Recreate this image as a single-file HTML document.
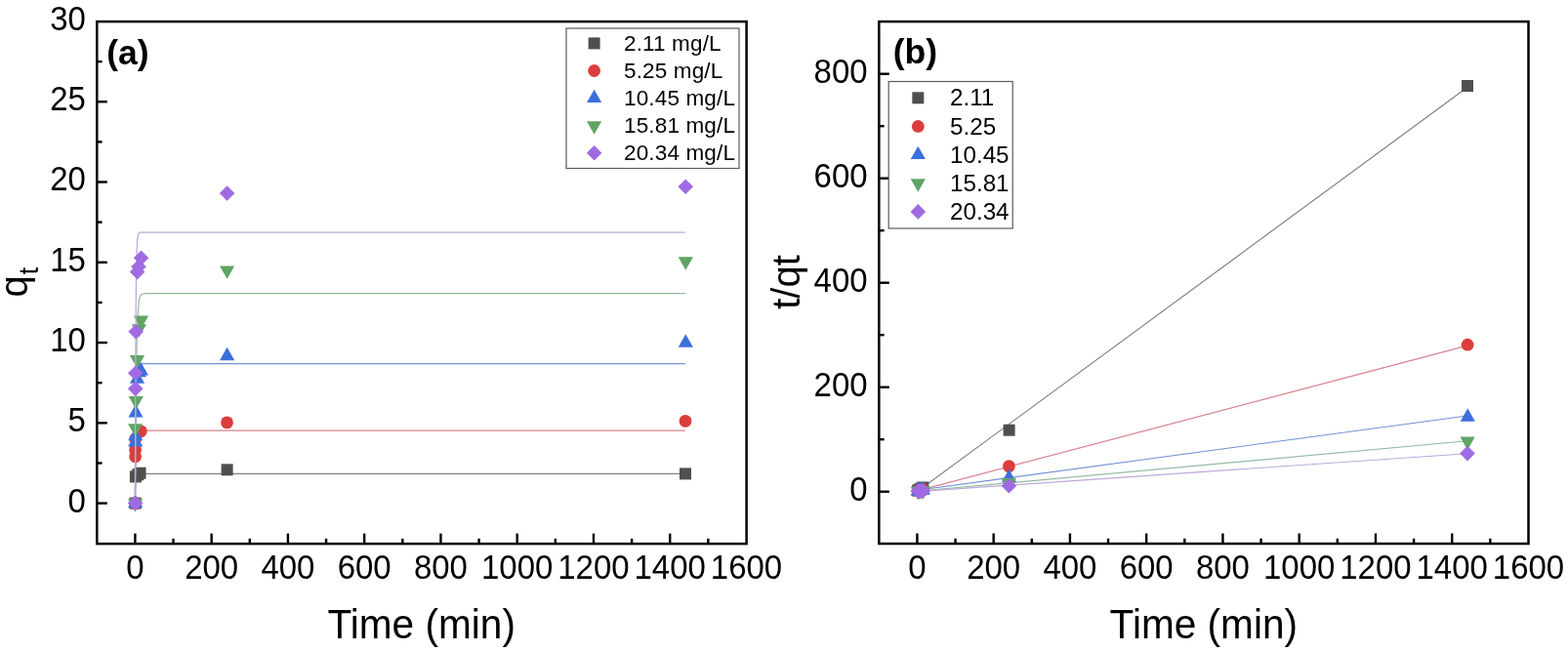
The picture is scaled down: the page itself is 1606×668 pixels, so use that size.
<!DOCTYPE html><html><head><meta charset="utf-8"><title>Adsorption kinetics</title>
<style>html,body{margin:0;padding:0;background:#fff;overflow:hidden}svg{display:block}text{font-family:"Liberation Sans", Arial, sans-serif;fill:#000}</style></head><body>
<svg width="1606" height="668" viewBox="0 0 1606 668">
<rect x="0" y="0" width="1606" height="668" fill="#fff"/>
<polyline points="138.4,515.6 138.48,510.64 138.56,506.5 138.63,503.04 138.71,500.14 138.79,497.73 138.87,495.71 138.95,494.03 139.03,492.62 139.1,491.45 139.18,490.46 139.26,489.64 139.34,488.96 139.42,488.39 139.5,487.91 139.57,487.51 139.65,487.18 139.73,486.9 139.81,486.67 139.89,486.47 139.97,486.31 140.04,486.17 140.12,486.06 140.2,485.97 140.28,485.89 140.36,485.82 140.43,485.77 140.51,485.72 140.59,485.68 140.67,485.65 140.75,485.62 140.83,485.6 140.9,485.58 140.98,485.57 141.06,485.55 141.14,485.54 141.22,485.53 141.3,485.53 141.37,485.52 141.45,485.51 141.53,485.51 141.61,485.51 141.69,485.5 141.77,485.5 141.84,485.5 141.92,485.5 142,485.49 142.08,485.49 142.16,485.49 142.23,485.49 142.31,485.49 142.39,485.49 142.47,485.49 142.55,485.49 142.63,485.49 142.7,485.49 142.78,485.49 142.86,485.49 142.94,485.49 143.02,485.49 143.1,485.49 143.17,485.49 143.25,485.49 143.33,485.49 143.41,485.49 143.49,485.49 143.57,485.49 143.64,485.49 143.72,485.49 143.8,485.49 143.88,485.49 143.96,485.49 144.03,485.49 144.11,485.49 144.19,485.49 144.27,485.49 144.35,485.49 144.43,485.49 144.5,485.49 144.58,485.49 144.66,485.49 144.74,485.49 144.82,485.49 144.9,485.49 144.97,485.49 145.05,485.49 145.13,485.49 145.21,485.49 145.29,485.49 145.37,485.49 145.44,485.49 145.52,485.49 145.6,485.49 145.68,485.49 145.76,485.49 145.83,485.49 145.91,485.49 145.99,485.49 146.07,485.49 146.15,485.49 146.23,485.49 146.3,485.49 146.38,485.49 146.46,485.49 146.54,485.49 146.62,485.49 146.7,485.49 146.77,485.49 146.85,485.49 146.93,485.49 147.01,485.49 147.09,485.49 147.17,485.49 147.24,485.49 147.32,485.49 147.4,485.49 147.48,485.49 147.56,485.49 147.63,485.49 147.71,485.49 147.79,485.49 147.87,485.49 147.95,485.49 148.03,485.49 148.1,485.49 148.18,485.49 148.26,485.49 148.34,485.49 148.42,485.49 148.5,485.49 148.57,485.49 148.65,485.49 148.73,485.49 148.81,485.49 148.89,485.49 148.97,485.49 149.04,485.49 149.12,485.49 149.2,485.49 149.28,485.49 149.36,485.49 149.43,485.49 149.51,485.49 149.59,485.49 149.67,485.49 149.75,485.49 149.83,485.49 149.9,485.49 149.98,485.49 150.06,485.49 150.14,485.49 150.14,485.49 154.05,485.49 157.97,485.49 161.88,485.49 165.79,485.49 169.7,485.49 173.62,485.49 177.53,485.49 181.44,485.49 185.36,485.49 189.27,485.49 193.18,485.49 197.09,485.49 201.01,485.49 204.92,485.49 208.83,485.49 212.75,485.49 216.66,485.49 220.57,485.49 224.49,485.49 228.4,485.49 232.31,485.49 236.22,485.49 240.14,485.49 244.05,485.49 247.96,485.49 251.88,485.49 255.79,485.49 259.7,485.49 263.62,485.49 267.53,485.49 271.44,485.49 275.36,485.49 279.27,485.49 283.18,485.49 287.09,485.49 291.01,485.49 294.92,485.49 298.83,485.49 302.75,485.49 306.66,485.49 310.57,485.49 314.49,485.49 318.4,485.49 322.31,485.49 326.22,485.49 330.14,485.49 334.05,485.49 337.96,485.49 341.88,485.49 345.79,485.49 349.7,485.49 353.62,485.49 357.53,485.49 361.44,485.49 365.35,485.49 369.27,485.49 373.18,485.49 377.09,485.49 381.01,485.49 384.92,485.49 388.83,485.49 392.75,485.49 396.66,485.49 400.57,485.49 404.48,485.49 408.4,485.49 412.31,485.49 416.22,485.49 420.14,485.49 424.05,485.49 427.96,485.49 431.88,485.49 435.79,485.49 439.7,485.49 443.61,485.49 447.53,485.49 451.44,485.49 455.35,485.49 459.27,485.49 463.18,485.49 467.09,485.49 471,485.49 474.92,485.49 478.83,485.49 482.74,485.49 486.66,485.49 490.57,485.49 494.48,485.49 498.4,485.49 502.31,485.49 506.22,485.49 510.13,485.49 514.05,485.49 517.96,485.49 521.87,485.49 525.79,485.49 529.7,485.49 533.61,485.49 537.53,485.49 541.44,485.49 545.35,485.49 549.26,485.49 553.18,485.49 557.09,485.49 561,485.49 564.92,485.49 568.83,485.49 572.74,485.49 576.66,485.49 580.57,485.49 584.48,485.49 588.39,485.49 592.31,485.49 596.22,485.49 600.13,485.49 604.05,485.49 607.96,485.49 611.87,485.49 615.79,485.49 619.7,485.49 623.61,485.49 627.52,485.49 631.44,485.49 635.35,485.49 639.26,485.49 643.18,485.49 647.09,485.49 651,485.49 654.92,485.49 658.83,485.49 662.74,485.49 666.65,485.49 670.57,485.49 674.48,485.49 678.39,485.49 682.31,485.49 686.22,485.49 690.13,485.49 694.05,485.49 697.96,485.49 701.87,485.49" fill="none" stroke="#808080" stroke-width="1.25"/>
<rect x="132.6" y="509.6" width="12" height="12" fill="#4f4f4f"/>
<rect x="132.9" y="482.4" width="12" height="12" fill="#4f4f4f"/>
<rect x="135.2" y="480.3" width="12" height="12" fill="#4f4f4f"/>
<rect x="137.5" y="478.7" width="12" height="12" fill="#4f4f4f"/>
<rect x="226.6" y="475.3" width="12" height="12" fill="#4f4f4f"/>
<rect x="696" y="479.4" width="12" height="12" fill="#4f4f4f"/>
<polyline points="138.4,515.6 138.48,507.84 138.56,500.88 138.63,494.65 138.71,489.07 138.79,484.07 138.87,479.59 138.95,475.57 139.03,471.98 139.1,468.76 139.18,465.87 139.26,463.29 139.34,460.97 139.42,458.9 139.5,457.04 139.57,455.37 139.65,453.88 139.73,452.55 139.81,451.35 139.89,450.28 139.97,449.32 140.04,448.46 140.12,447.69 140.2,447 140.28,446.38 140.36,445.82 140.43,445.33 140.51,444.88 140.59,444.48 140.67,444.13 140.75,443.81 140.83,443.52 140.9,443.27 140.98,443.04 141.06,442.83 141.14,442.65 141.22,442.48 141.3,442.33 141.37,442.2 141.45,442.08 141.53,441.97 141.61,441.88 141.69,441.79 141.77,441.72 141.84,441.65 141.92,441.59 142,441.53 142.08,441.48 142.16,441.44 142.23,441.4 142.31,441.36 142.39,441.33 142.47,441.3 142.55,441.28 142.63,441.26 142.7,441.23 142.78,441.22 142.86,441.2 142.94,441.19 143.02,441.17 143.1,441.16 143.17,441.15 143.25,441.14 143.33,441.13 143.41,441.12 143.49,441.12 143.57,441.11 143.64,441.11 143.72,441.1 143.8,441.1 143.88,441.09 143.96,441.09 144.03,441.09 144.11,441.08 144.19,441.08 144.27,441.08 144.35,441.08 144.43,441.07 144.5,441.07 144.58,441.07 144.66,441.07 144.74,441.07 144.82,441.07 144.9,441.07 144.97,441.07 145.05,441.07 145.13,441.06 145.21,441.06 145.29,441.06 145.37,441.06 145.44,441.06 145.52,441.06 145.6,441.06 145.68,441.06 145.76,441.06 145.83,441.06 145.91,441.06 145.99,441.06 146.07,441.06 146.15,441.06 146.23,441.06 146.3,441.06 146.38,441.06 146.46,441.06 146.54,441.06 146.62,441.06 146.7,441.06 146.77,441.06 146.85,441.06 146.93,441.06 147.01,441.06 147.09,441.06 147.17,441.06 147.24,441.06 147.32,441.06 147.4,441.06 147.48,441.06 147.56,441.06 147.63,441.06 147.71,441.06 147.79,441.06 147.87,441.06 147.95,441.06 148.03,441.06 148.1,441.06 148.18,441.06 148.26,441.06 148.34,441.06 148.42,441.06 148.5,441.06 148.57,441.06 148.65,441.06 148.73,441.06 148.81,441.06 148.89,441.06 148.97,441.06 149.04,441.06 149.12,441.06 149.2,441.06 149.28,441.06 149.36,441.06 149.43,441.06 149.51,441.06 149.59,441.06 149.67,441.06 149.75,441.06 149.83,441.06 149.9,441.06 149.98,441.06 150.06,441.06 150.14,441.06 150.14,441.06 154.05,441.06 157.97,441.06 161.88,441.06 165.79,441.06 169.7,441.06 173.62,441.06 177.53,441.06 181.44,441.06 185.36,441.06 189.27,441.06 193.18,441.06 197.09,441.06 201.01,441.06 204.92,441.06 208.83,441.06 212.75,441.06 216.66,441.06 220.57,441.06 224.49,441.06 228.4,441.06 232.31,441.06 236.22,441.06 240.14,441.06 244.05,441.06 247.96,441.06 251.88,441.06 255.79,441.06 259.7,441.06 263.62,441.06 267.53,441.06 271.44,441.06 275.36,441.06 279.27,441.06 283.18,441.06 287.09,441.06 291.01,441.06 294.92,441.06 298.83,441.06 302.75,441.06 306.66,441.06 310.57,441.06 314.49,441.06 318.4,441.06 322.31,441.06 326.22,441.06 330.14,441.06 334.05,441.06 337.96,441.06 341.88,441.06 345.79,441.06 349.7,441.06 353.62,441.06 357.53,441.06 361.44,441.06 365.35,441.06 369.27,441.06 373.18,441.06 377.09,441.06 381.01,441.06 384.92,441.06 388.83,441.06 392.75,441.06 396.66,441.06 400.57,441.06 404.48,441.06 408.4,441.06 412.31,441.06 416.22,441.06 420.14,441.06 424.05,441.06 427.96,441.06 431.88,441.06 435.79,441.06 439.7,441.06 443.61,441.06 447.53,441.06 451.44,441.06 455.35,441.06 459.27,441.06 463.18,441.06 467.09,441.06 471,441.06 474.92,441.06 478.83,441.06 482.74,441.06 486.66,441.06 490.57,441.06 494.48,441.06 498.4,441.06 502.31,441.06 506.22,441.06 510.13,441.06 514.05,441.06 517.96,441.06 521.87,441.06 525.79,441.06 529.7,441.06 533.61,441.06 537.53,441.06 541.44,441.06 545.35,441.06 549.26,441.06 553.18,441.06 557.09,441.06 561,441.06 564.92,441.06 568.83,441.06 572.74,441.06 576.66,441.06 580.57,441.06 584.48,441.06 588.39,441.06 592.31,441.06 596.22,441.06 600.13,441.06 604.05,441.06 607.96,441.06 611.87,441.06 615.79,441.06 619.7,441.06 623.61,441.06 627.52,441.06 631.44,441.06 635.35,441.06 639.26,441.06 643.18,441.06 647.09,441.06 651,441.06 654.92,441.06 658.83,441.06 662.74,441.06 666.65,441.06 670.57,441.06 674.48,441.06 678.39,441.06 682.31,441.06 686.22,441.06 690.13,441.06 694.05,441.06 697.96,441.06 701.87,441.06" fill="none" stroke="#d9828f" stroke-width="1.25"/>
<circle cx="138.6" cy="515.6" r="6.4" fill="#dc3c3c"/>
<circle cx="138.6" cy="467.8" r="6.4" fill="#dc3c3c"/>
<circle cx="138.6" cy="460.8" r="6.4" fill="#dc3c3c"/>
<circle cx="138.7" cy="449.5" r="6.4" fill="#dc3c3c"/>
<circle cx="144.3" cy="441.8" r="6.4" fill="#dc3c3c"/>
<circle cx="232.5" cy="432.9" r="6.4" fill="#dc3c3c"/>
<circle cx="702" cy="431.4" r="6.4" fill="#dc3c3c"/>
<polyline points="138.4,515.6 138.48,503.29 138.56,492.04 138.63,481.76 138.71,472.37 138.79,463.78 138.87,455.94 138.95,448.76 139.03,442.21 139.1,436.22 139.18,430.74 139.26,425.74 139.34,421.17 139.42,416.99 139.5,413.17 139.57,409.68 139.65,406.49 139.73,403.57 139.81,400.9 139.89,398.47 139.97,396.24 140.04,394.21 140.12,392.35 140.2,390.65 140.28,389.1 140.36,387.68 140.43,386.38 140.51,385.19 140.59,384.11 140.67,383.12 140.75,382.22 140.83,381.39 140.9,380.63 140.98,379.94 141.06,379.31 141.14,378.73 141.22,378.21 141.3,377.72 141.37,377.28 141.45,376.88 141.53,376.51 141.61,376.18 141.69,375.87 141.77,375.59 141.84,375.33 141.92,375.1 142,374.88 142.08,374.69 142.16,374.51 142.23,374.34 142.31,374.19 142.39,374.06 142.47,373.93 142.55,373.82 142.63,373.71 142.7,373.62 142.78,373.53 142.86,373.45 142.94,373.38 143.02,373.31 143.1,373.25 143.17,373.2 143.25,373.15 143.33,373.1 143.41,373.06 143.49,373.02 143.57,372.98 143.64,372.95 143.72,372.92 143.8,372.89 143.88,372.87 143.96,372.85 144.03,372.83 144.11,372.81 144.19,372.79 144.27,372.77 144.35,372.76 144.43,372.75 144.5,372.73 144.58,372.72 144.66,372.71 144.74,372.7 144.82,372.7 144.9,372.69 144.97,372.68 145.05,372.67 145.13,372.67 145.21,372.66 145.29,372.66 145.37,372.65 145.44,372.65 145.52,372.65 145.6,372.64 145.68,372.64 145.76,372.64 145.83,372.63 145.91,372.63 145.99,372.63 146.07,372.63 146.15,372.63 146.23,372.62 146.3,372.62 146.38,372.62 146.46,372.62 146.54,372.62 146.62,372.62 146.7,372.62 146.77,372.62 146.85,372.61 146.93,372.61 147.01,372.61 147.09,372.61 147.17,372.61 147.24,372.61 147.32,372.61 147.4,372.61 147.48,372.61 147.56,372.61 147.63,372.61 147.71,372.61 147.79,372.61 147.87,372.61 147.95,372.61 148.03,372.61 148.1,372.61 148.18,372.61 148.26,372.61 148.34,372.61 148.42,372.61 148.5,372.61 148.57,372.61 148.65,372.61 148.73,372.61 148.81,372.61 148.89,372.61 148.97,372.61 149.04,372.61 149.12,372.61 149.2,372.61 149.28,372.61 149.36,372.61 149.43,372.61 149.51,372.61 149.59,372.61 149.67,372.61 149.75,372.61 149.83,372.61 149.9,372.61 149.98,372.61 150.06,372.61 150.14,372.61 150.14,372.61 154.05,372.61 157.97,372.61 161.88,372.61 165.79,372.61 169.7,372.61 173.62,372.61 177.53,372.61 181.44,372.61 185.36,372.61 189.27,372.61 193.18,372.61 197.09,372.61 201.01,372.61 204.92,372.61 208.83,372.61 212.75,372.61 216.66,372.61 220.57,372.61 224.49,372.61 228.4,372.61 232.31,372.61 236.22,372.61 240.14,372.61 244.05,372.61 247.96,372.61 251.88,372.61 255.79,372.61 259.7,372.61 263.62,372.61 267.53,372.61 271.44,372.61 275.36,372.61 279.27,372.61 283.18,372.61 287.09,372.61 291.01,372.61 294.92,372.61 298.83,372.61 302.75,372.61 306.66,372.61 310.57,372.61 314.49,372.61 318.4,372.61 322.31,372.61 326.22,372.61 330.14,372.61 334.05,372.61 337.96,372.61 341.88,372.61 345.79,372.61 349.7,372.61 353.62,372.61 357.53,372.61 361.44,372.61 365.35,372.61 369.27,372.61 373.18,372.61 377.09,372.61 381.01,372.61 384.92,372.61 388.83,372.61 392.75,372.61 396.66,372.61 400.57,372.61 404.48,372.61 408.4,372.61 412.31,372.61 416.22,372.61 420.14,372.61 424.05,372.61 427.96,372.61 431.88,372.61 435.79,372.61 439.7,372.61 443.61,372.61 447.53,372.61 451.44,372.61 455.35,372.61 459.27,372.61 463.18,372.61 467.09,372.61 471,372.61 474.92,372.61 478.83,372.61 482.74,372.61 486.66,372.61 490.57,372.61 494.48,372.61 498.4,372.61 502.31,372.61 506.22,372.61 510.13,372.61 514.05,372.61 517.96,372.61 521.87,372.61 525.79,372.61 529.7,372.61 533.61,372.61 537.53,372.61 541.44,372.61 545.35,372.61 549.26,372.61 553.18,372.61 557.09,372.61 561,372.61 564.92,372.61 568.83,372.61 572.74,372.61 576.66,372.61 580.57,372.61 584.48,372.61 588.39,372.61 592.31,372.61 596.22,372.61 600.13,372.61 604.05,372.61 607.96,372.61 611.87,372.61 615.79,372.61 619.7,372.61 623.61,372.61 627.52,372.61 631.44,372.61 635.35,372.61 639.26,372.61 643.18,372.61 647.09,372.61 651,372.61 654.92,372.61 658.83,372.61 662.74,372.61 666.65,372.61 670.57,372.61 674.48,372.61 678.39,372.61 682.31,372.61 686.22,372.61 690.13,372.61 694.05,372.61 697.96,372.61 701.87,372.61" fill="none" stroke="#7293d6" stroke-width="1.25"/>
<polygon points="138.6,506.67 146.2,520.07 131,520.07" fill="#3d6fdc"/>
<polygon points="138.7,444.17 146.3,457.57 131.1,457.57" fill="#3d6fdc"/>
<polygon points="138.7,437.87 146.3,451.27 131.1,451.27" fill="#3d6fdc"/>
<polygon points="139,414.07 146.6,427.47 131.4,427.47" fill="#3d6fdc"/>
<polygon points="140.5,379.37 148.1,392.77 132.9,392.77" fill="#3d6fdc"/>
<polygon points="142.3,372.77 149.9,386.17 134.7,386.17" fill="#3d6fdc"/>
<polygon points="144.4,371.07 152,384.47 136.8,384.47" fill="#3d6fdc"/>
<polygon points="232.6,355.77 240.2,369.17 225,369.17" fill="#3d6fdc"/>
<polygon points="702.3,342.27 709.9,355.67 694.7,355.67" fill="#3d6fdc"/>
<polyline points="138.4,515.6 138.48,502.28 138.56,489.78 138.63,478.06 138.71,467.06 138.79,456.75 138.87,447.07 138.95,438 139.03,429.49 139.1,421.5 139.18,414.01 139.26,406.99 139.34,400.4 139.42,394.22 139.5,388.42 139.57,382.98 139.65,377.88 139.73,373.1 139.81,368.61 139.89,364.4 139.97,360.45 140.04,356.74 140.12,353.27 140.2,350.01 140.28,346.95 140.36,344.09 140.43,341.4 140.51,338.87 140.59,336.51 140.67,334.29 140.75,332.2 140.83,330.25 140.9,328.42 140.98,326.7 141.06,325.09 141.14,323.58 141.22,322.16 141.3,320.83 141.37,319.58 141.45,318.41 141.53,317.31 141.61,316.28 141.69,315.31 141.77,314.41 141.84,313.56 141.92,312.76 142,312.01 142.08,311.31 142.16,310.65 142.23,310.04 142.31,309.46 142.39,308.91 142.47,308.41 142.55,307.93 142.63,307.48 142.7,307.06 142.78,306.66 142.86,306.29 142.94,305.95 143.02,305.62 143.1,305.32 143.17,305.03 143.25,304.76 143.33,304.51 143.41,304.27 143.49,304.05 143.57,303.84 143.64,303.65 143.72,303.47 143.8,303.29 143.88,303.13 143.96,302.98 144.03,302.84 144.11,302.71 144.19,302.58 144.27,302.47 144.35,302.36 144.43,302.25 144.5,302.16 144.58,302.07 144.66,301.98 144.74,301.9 144.82,301.83 144.9,301.76 144.97,301.69 145.05,301.63 145.13,301.57 145.21,301.52 145.29,301.47 145.37,301.42 145.44,301.37 145.52,301.33 145.6,301.29 145.68,301.26 145.76,301.22 145.83,301.19 145.91,301.16 145.99,301.13 146.07,301.1 146.15,301.08 146.23,301.05 146.3,301.03 146.38,301.01 146.46,300.99 146.54,300.97 146.62,300.96 146.7,300.94 146.77,300.93 146.85,300.91 146.93,300.9 147.01,300.89 147.09,300.87 147.17,300.86 147.24,300.85 147.32,300.84 147.4,300.83 147.48,300.83 147.56,300.82 147.63,300.81 147.71,300.8 147.79,300.8 147.87,300.79 147.95,300.79 148.03,300.78 148.1,300.77 148.18,300.77 148.26,300.77 148.34,300.76 148.42,300.76 148.5,300.75 148.57,300.75 148.65,300.75 148.73,300.74 148.81,300.74 148.89,300.74 148.97,300.74 149.04,300.73 149.12,300.73 149.2,300.73 149.28,300.73 149.36,300.73 149.43,300.72 149.51,300.72 149.59,300.72 149.67,300.72 149.75,300.72 149.83,300.72 149.9,300.72 149.98,300.71 150.06,300.71 150.14,300.71 150.14,300.71 154.05,300.7 157.97,300.7 161.88,300.7 165.79,300.7 169.7,300.7 173.62,300.7 177.53,300.7 181.44,300.7 185.36,300.7 189.27,300.7 193.18,300.7 197.09,300.7 201.01,300.7 204.92,300.7 208.83,300.7 212.75,300.7 216.66,300.7 220.57,300.7 224.49,300.7 228.4,300.7 232.31,300.7 236.22,300.7 240.14,300.7 244.05,300.7 247.96,300.7 251.88,300.7 255.79,300.7 259.7,300.7 263.62,300.7 267.53,300.7 271.44,300.7 275.36,300.7 279.27,300.7 283.18,300.7 287.09,300.7 291.01,300.7 294.92,300.7 298.83,300.7 302.75,300.7 306.66,300.7 310.57,300.7 314.49,300.7 318.4,300.7 322.31,300.7 326.22,300.7 330.14,300.7 334.05,300.7 337.96,300.7 341.88,300.7 345.79,300.7 349.7,300.7 353.62,300.7 357.53,300.7 361.44,300.7 365.35,300.7 369.27,300.7 373.18,300.7 377.09,300.7 381.01,300.7 384.92,300.7 388.83,300.7 392.75,300.7 396.66,300.7 400.57,300.7 404.48,300.7 408.4,300.7 412.31,300.7 416.22,300.7 420.14,300.7 424.05,300.7 427.96,300.7 431.88,300.7 435.79,300.7 439.7,300.7 443.61,300.7 447.53,300.7 451.44,300.7 455.35,300.7 459.27,300.7 463.18,300.7 467.09,300.7 471,300.7 474.92,300.7 478.83,300.7 482.74,300.7 486.66,300.7 490.57,300.7 494.48,300.7 498.4,300.7 502.31,300.7 506.22,300.7 510.13,300.7 514.05,300.7 517.96,300.7 521.87,300.7 525.79,300.7 529.7,300.7 533.61,300.7 537.53,300.7 541.44,300.7 545.35,300.7 549.26,300.7 553.18,300.7 557.09,300.7 561,300.7 564.92,300.7 568.83,300.7 572.74,300.7 576.66,300.7 580.57,300.7 584.48,300.7 588.39,300.7 592.31,300.7 596.22,300.7 600.13,300.7 604.05,300.7 607.96,300.7 611.87,300.7 615.79,300.7 619.7,300.7 623.61,300.7 627.52,300.7 631.44,300.7 635.35,300.7 639.26,300.7 643.18,300.7 647.09,300.7 651,300.7 654.92,300.7 658.83,300.7 662.74,300.7 666.65,300.7 670.57,300.7 674.48,300.7 678.39,300.7 682.31,300.7 686.22,300.7 690.13,300.7 694.05,300.7 697.96,300.7 701.87,300.7" fill="none" stroke="#92bca0" stroke-width="1.25"/>
<polygon points="131,511.13 146.2,511.13 138.6,524.53" fill="#5fa465"/>
<polygon points="131,434.13 146.2,434.13 138.6,447.53" fill="#5fa465"/>
<polygon points="131.7,406.03 146.9,406.03 139.3,419.43" fill="#5fa465"/>
<polygon points="132.85,364.03 148.05,364.03 140.45,377.43" fill="#5fa465"/>
<polygon points="134.8,332.13 150,332.13 142.4,345.53" fill="#5fa465"/>
<polygon points="136.9,323.53 152.1,323.53 144.5,336.93" fill="#5fa465"/>
<polygon points="225,272.43 240.2,272.43 232.6,285.83" fill="#5fa465"/>
<polygon points="694.7,263.33 709.9,263.33 702.3,276.73" fill="#5fa465"/>
<polyline points="138.4,515.6 138.48,484.21 138.56,456.37 138.63,431.68 138.71,409.78 138.79,390.35 138.87,373.12 138.95,357.85 139.03,344.29 139.1,332.27 139.18,321.61 139.26,312.16 139.34,303.77 139.42,296.34 139.5,289.74 139.57,283.89 139.65,278.7 139.73,274.1 139.81,270.02 139.89,266.4 139.97,263.19 140.04,260.34 140.12,257.81 140.2,255.57 140.28,253.59 140.36,251.82 140.43,250.26 140.51,248.88 140.59,247.65 140.67,246.56 140.75,245.59 140.83,244.73 140.9,243.97 140.98,243.3 141.06,242.7 141.14,242.17 141.22,241.7 141.3,241.28 141.37,240.91 141.45,240.58 141.53,240.29 141.61,240.03 141.69,239.8 141.77,239.6 141.84,239.42 141.92,239.26 142,239.12 142.08,238.99 142.16,238.88 142.23,238.78 142.31,238.69 142.39,238.61 142.47,238.55 142.55,238.48 142.63,238.43 142.7,238.38 142.78,238.34 142.86,238.3 142.94,238.27 143.02,238.24 143.1,238.21 143.17,238.19 143.25,238.17 143.33,238.15 143.41,238.13 143.49,238.12 143.57,238.11 143.64,238.09 143.72,238.08 143.8,238.07 143.88,238.07 143.96,238.06 144.03,238.05 144.11,238.05 144.19,238.04 144.27,238.04 144.35,238.03 144.43,238.03 144.5,238.03 144.58,238.03 144.66,238.02 144.74,238.02 144.82,238.02 144.9,238.02 144.97,238.02 145.05,238.01 145.13,238.01 145.21,238.01 145.29,238.01 145.37,238.01 145.44,238.01 145.52,238.01 145.6,238.01 145.68,238.01 145.76,238.01 145.83,238.01 145.91,238.01 145.99,238.01 146.07,238.01 146.15,238.01 146.23,238.01 146.3,238.01 146.38,238.01 146.46,238.01 146.54,238.01 146.62,238.01 146.7,238 146.77,238 146.85,238 146.93,238 147.01,238 147.09,238 147.17,238 147.24,238 147.32,238 147.4,238 147.48,238 147.56,238 147.63,238 147.71,238 147.79,238 147.87,238 147.95,238 148.03,238 148.1,238 148.18,238 148.26,238 148.34,238 148.42,238 148.5,238 148.57,238 148.65,238 148.73,238 148.81,238 148.89,238 148.97,238 149.04,238 149.12,238 149.2,238 149.28,238 149.36,238 149.43,238 149.51,238 149.59,238 149.67,238 149.75,238 149.83,238 149.9,238 149.98,238 150.06,238 150.14,238 150.14,238 154.05,238 157.97,238 161.88,238 165.79,238 169.7,238 173.62,238 177.53,238 181.44,238 185.36,238 189.27,238 193.18,238 197.09,238 201.01,238 204.92,238 208.83,238 212.75,238 216.66,238 220.57,238 224.49,238 228.4,238 232.31,238 236.22,238 240.14,238 244.05,238 247.96,238 251.88,238 255.79,238 259.7,238 263.62,238 267.53,238 271.44,238 275.36,238 279.27,238 283.18,238 287.09,238 291.01,238 294.92,238 298.83,238 302.75,238 306.66,238 310.57,238 314.49,238 318.4,238 322.31,238 326.22,238 330.14,238 334.05,238 337.96,238 341.88,238 345.79,238 349.7,238 353.62,238 357.53,238 361.44,238 365.35,238 369.27,238 373.18,238 377.09,238 381.01,238 384.92,238 388.83,238 392.75,238 396.66,238 400.57,238 404.48,238 408.4,238 412.31,238 416.22,238 420.14,238 424.05,238 427.96,238 431.88,238 435.79,238 439.7,238 443.61,238 447.53,238 451.44,238 455.35,238 459.27,238 463.18,238 467.09,238 471,238 474.92,238 478.83,238 482.74,238 486.66,238 490.57,238 494.48,238 498.4,238 502.31,238 506.22,238 510.13,238 514.05,238 517.96,238 521.87,238 525.79,238 529.7,238 533.61,238 537.53,238 541.44,238 545.35,238 549.26,238 553.18,238 557.09,238 561,238 564.92,238 568.83,238 572.74,238 576.66,238 580.57,238 584.48,238 588.39,238 592.31,238 596.22,238 600.13,238 604.05,238 607.96,238 611.87,238 615.79,238 619.7,238 623.61,238 627.52,238 631.44,238 635.35,238 639.26,238 643.18,238 647.09,238 651,238 654.92,238 658.83,238 662.74,238 666.65,238 670.57,238 674.48,238 678.39,238 682.31,238 686.22,238 690.13,238 694.05,238 697.96,238 701.87,238" fill="none" stroke="#bea8dc" stroke-width="1.25"/>
<polygon points="138.6,507.8 146.4,515.6 138.6,523.4 130.8,515.6" fill="#a06be2"/>
<polygon points="138.7,390.5 146.5,398.3 138.7,406.1 130.9,398.3" fill="#a06be2"/>
<polygon points="138.8,374.4 146.6,382.2 138.8,390 131,382.2" fill="#a06be2"/>
<polygon points="139.2,332 147,339.8 139.2,347.6 131.4,339.8" fill="#a06be2"/>
<polygon points="140.6,270.8 148.4,278.6 140.6,286.4 132.8,278.6" fill="#a06be2"/>
<polygon points="142,265.4 149.8,273.2 142,281 134.2,273.2" fill="#a06be2"/>
<polygon points="144.6,256.4 152.4,264.2 144.6,272 136.8,264.2" fill="#a06be2"/>
<polygon points="232.6,190.2 240.4,198 232.6,205.8 224.8,198" fill="#a06be2"/>
<polygon points="702.2,183.5 710,191.3 702.2,199.1 694.4,191.3" fill="#a06be2"/>
<g stroke="#000" stroke-width="2.4" fill="none">
<line x1="138.4" y1="557.1" x2="138.4" y2="546.6"/>
<line x1="216.66" y1="557.1" x2="216.66" y2="546.6"/>
<line x1="294.92" y1="557.1" x2="294.92" y2="546.6"/>
<line x1="373.18" y1="557.1" x2="373.18" y2="546.6"/>
<line x1="451.44" y1="557.1" x2="451.44" y2="546.6"/>
<line x1="529.7" y1="557.1" x2="529.7" y2="546.6"/>
<line x1="607.96" y1="557.1" x2="607.96" y2="546.6"/>
<line x1="686.22" y1="557.1" x2="686.22" y2="546.6"/>
<line x1="177.53" y1="557.1" x2="177.53" y2="551.8"/>
<line x1="255.79" y1="557.1" x2="255.79" y2="551.8"/>
<line x1="334.05" y1="557.1" x2="334.05" y2="551.8"/>
<line x1="412.31" y1="557.1" x2="412.31" y2="551.8"/>
<line x1="490.57" y1="557.1" x2="490.57" y2="551.8"/>
<line x1="568.83" y1="557.1" x2="568.83" y2="551.8"/>
<line x1="647.09" y1="557.1" x2="647.09" y2="551.8"/>
<line x1="725.35" y1="557.1" x2="725.35" y2="551.8"/>
<line x1="99.3" y1="515.6" x2="109.8" y2="515.6"/>
<line x1="99.3" y1="433.33" x2="109.8" y2="433.33"/>
<line x1="99.3" y1="351.05" x2="109.8" y2="351.05"/>
<line x1="99.3" y1="268.78" x2="109.8" y2="268.78"/>
<line x1="99.3" y1="186.5" x2="109.8" y2="186.5"/>
<line x1="99.3" y1="104.23" x2="109.8" y2="104.23"/>
<line x1="99.3" y1="474.46" x2="104.6" y2="474.46"/>
<line x1="99.3" y1="392.19" x2="104.6" y2="392.19"/>
<line x1="99.3" y1="309.91" x2="104.6" y2="309.91"/>
<line x1="99.3" y1="227.64" x2="104.6" y2="227.64"/>
<line x1="99.3" y1="145.36" x2="104.6" y2="145.36"/>
<line x1="99.3" y1="63.09" x2="104.6" y2="63.09"/>
</g>
<rect x="99.3" y="22.1" width="665.3" height="535" fill="none" stroke="#000" stroke-width="2.5"/>
<text transform="translate(87.9,524.5) scale(1,1.055)" font-size="33" text-anchor="end">0</text>
<text transform="translate(87.9,442.23) scale(1,1.055)" font-size="33" text-anchor="end">5</text>
<text transform="translate(87.9,359.95) scale(1,1.055)" font-size="33" text-anchor="end">10</text>
<text transform="translate(87.9,277.68) scale(1,1.055)" font-size="33" text-anchor="end">15</text>
<text transform="translate(87.9,195.4) scale(1,1.055)" font-size="33" text-anchor="end">20</text>
<text transform="translate(87.9,113.13) scale(1,1.055)" font-size="33" text-anchor="end">25</text>
<text transform="translate(87.9,30.85) scale(1,1.055)" font-size="33" text-anchor="end">30</text>
<text transform="translate(138.4,593.4) scale(1,1.055)" font-size="33" text-anchor="middle">0</text>
<text transform="translate(216.66,593.4) scale(1,1.055)" font-size="33" text-anchor="middle">200</text>
<text transform="translate(294.92,593.4) scale(1,1.055)" font-size="33" text-anchor="middle">400</text>
<text transform="translate(373.18,593.4) scale(1,1.055)" font-size="33" text-anchor="middle">600</text>
<text transform="translate(451.44,593.4) scale(1,1.055)" font-size="33" text-anchor="middle">800</text>
<text transform="translate(529.7,593.4) scale(1,1.055)" font-size="33" text-anchor="middle">1000</text>
<text transform="translate(607.96,593.4) scale(1,1.055)" font-size="33" text-anchor="middle">1200</text>
<text transform="translate(686.22,593.4) scale(1,1.055)" font-size="33" text-anchor="middle">1400</text>
<text transform="translate(764.48,593.4) scale(1,1.055)" font-size="33" text-anchor="middle">1600</text>
<text transform="translate(431.7,653.9) scale(1,1.04)" font-size="40.6" text-anchor="middle">Time (min)</text>
<text transform="translate(28.0,304.4) rotate(-90)" font-size="40">q<tspan font-size="28" dy="11.1" dx="0.75">t</tspan></text>
<text x="109.3" y="65.5" font-size="35.5" font-weight="bold">(a)</text>
<rect x="580" y="29" width="177" height="143.5" fill="#fff" stroke="#5a5a5a" stroke-width="1.2"/>
<rect x="602.6" y="38.4" width="12" height="12" fill="#4f4f4f"/>
<text transform="translate(639,51.8) scale(1,1.02)" font-size="22.5" letter-spacing="0.15">2.11 mg/L</text>
<circle cx="608.6" cy="72.5" r="6.4" fill="#dc3c3c"/>
<text transform="translate(639,79.9) scale(1,1.02)" font-size="22.5" letter-spacing="0.15">5.25 mg/L</text>
<polygon points="608.6,91.67 616.2,105.07 601,105.07" fill="#3d6fdc"/>
<text transform="translate(639,108) scale(1,1.02)" font-size="22.5" letter-spacing="0.15">10.45 mg/L</text>
<polygon points="601,124.23 616.2,124.23 608.6,137.63" fill="#5fa465"/>
<text transform="translate(639,136.1) scale(1,1.02)" font-size="22.5" letter-spacing="0.15">15.81 mg/L</text>
<polygon points="608.6,149 616.4,156.8 608.6,164.6 600.8,156.8" fill="#a06be2"/>
<text transform="translate(639,164.2) scale(1,1.02)" font-size="22.5" letter-spacing="0.15">20.34 mg/L</text>
<line x1="939.6" y1="503.5" x2="1502.87" y2="89.5" stroke="#808080" stroke-width="1.15"/>
<line x1="939.6" y1="502.9" x2="1502.87" y2="354.1" stroke="#d9828f" stroke-width="1.15"/>
<line x1="939.6" y1="502.2" x2="1502.87" y2="426" stroke="#7293d6" stroke-width="1.15"/>
<line x1="939.6" y1="503.3" x2="1502.87" y2="451.8" stroke="#92bca0" stroke-width="1.15"/>
<line x1="939.6" y1="503.6" x2="1502.87" y2="464.7" stroke="#bea8dc" stroke-width="1.15"/>
<rect x="934.2" y="496.6" width="12" height="12" fill="#4f4f4f"/>
<rect x="935.4" y="495.8" width="12" height="12" fill="#4f4f4f"/>
<rect x="937.3" y="494.6" width="12" height="12" fill="#4f4f4f"/>
<rect x="939.3" y="493.5" width="12" height="12" fill="#4f4f4f"/>
<rect x="1027.6" y="434.7" width="12" height="12" fill="#4f4f4f"/>
<rect x="1497" y="82" width="12" height="12" fill="#4f4f4f"/>
<circle cx="940.2" cy="503" r="6.4" fill="#dc3c3c"/>
<circle cx="941.4" cy="502.5" r="6.4" fill="#dc3c3c"/>
<circle cx="943.3" cy="501.8" r="6.4" fill="#dc3c3c"/>
<circle cx="945.3" cy="501.2" r="6.4" fill="#dc3c3c"/>
<circle cx="1033.4" cy="477.6" r="6.4" fill="#dc3c3c"/>
<circle cx="1503.1" cy="353.2" r="6.4" fill="#dc3c3c"/>
<polygon points="940.2,494.27 947.8,507.67 932.6,507.67" fill="#3d6fdc"/>
<polygon points="941.4,494.07 949,507.47 933.8,507.47" fill="#3d6fdc"/>
<polygon points="943.3,493.67 950.9,507.07 935.7,507.07" fill="#3d6fdc"/>
<polygon points="945.3,493.37 952.9,506.77 937.7,506.77" fill="#3d6fdc"/>
<polygon points="1033.4,480.87 1041,494.27 1025.8,494.27" fill="#3d6fdc"/>
<polygon points="1503.3,418.37 1510.9,431.77 1495.7,431.77" fill="#3d6fdc"/>
<polygon points="932.6,498.83 947.8,498.83 940.2,512.23" fill="#5fa465"/>
<polygon points="933.8,498.63 949,498.63 941.4,512.03" fill="#5fa465"/>
<polygon points="935.7,498.43 950.9,498.43 943.3,511.83" fill="#5fa465"/>
<polygon points="937.7,498.23 952.9,498.23 945.3,511.63" fill="#5fa465"/>
<polygon points="1025.8,489.83 1041,489.83 1033.4,503.23" fill="#5fa465"/>
<polygon points="1495.5,447.53 1510.7,447.53 1503.1,460.93" fill="#5fa465"/>
<polygon points="940.2,495.5 948,503.3 940.2,511.1 932.4,503.3" fill="#a06be2"/>
<polygon points="941.4,495.4 949.2,503.2 941.4,511 933.6,503.2" fill="#a06be2"/>
<polygon points="943.3,495.2 951.1,503 943.3,510.8 935.5,503" fill="#a06be2"/>
<polygon points="945.3,495 953.1,502.8 945.3,510.6 937.5,502.8" fill="#a06be2"/>
<polygon points="1033.4,490 1041.2,497.8 1033.4,505.6 1025.6,497.8" fill="#a06be2"/>
<polygon points="1503,456.8 1510.8,464.6 1503,472.4 1495.2,464.6" fill="#a06be2"/>
<g stroke="#000" stroke-width="2.4" fill="none">
<line x1="939.4" y1="557" x2="939.4" y2="546.5"/>
<line x1="1017.66" y1="557" x2="1017.66" y2="546.5"/>
<line x1="1095.92" y1="557" x2="1095.92" y2="546.5"/>
<line x1="1174.18" y1="557" x2="1174.18" y2="546.5"/>
<line x1="1252.44" y1="557" x2="1252.44" y2="546.5"/>
<line x1="1330.7" y1="557" x2="1330.7" y2="546.5"/>
<line x1="1408.96" y1="557" x2="1408.96" y2="546.5"/>
<line x1="1487.22" y1="557" x2="1487.22" y2="546.5"/>
<line x1="978.53" y1="557" x2="978.53" y2="551.7"/>
<line x1="1056.79" y1="557" x2="1056.79" y2="551.7"/>
<line x1="1135.05" y1="557" x2="1135.05" y2="551.7"/>
<line x1="1213.31" y1="557" x2="1213.31" y2="551.7"/>
<line x1="1291.57" y1="557" x2="1291.57" y2="551.7"/>
<line x1="1369.83" y1="557" x2="1369.83" y2="551.7"/>
<line x1="1448.09" y1="557" x2="1448.09" y2="551.7"/>
<line x1="1526.35" y1="557" x2="1526.35" y2="551.7"/>
<line x1="900.3" y1="503.7" x2="910.8" y2="503.7"/>
<line x1="900.3" y1="396.7" x2="910.8" y2="396.7"/>
<line x1="900.3" y1="289.7" x2="910.8" y2="289.7"/>
<line x1="900.3" y1="182.7" x2="910.8" y2="182.7"/>
<line x1="900.3" y1="75.7" x2="910.8" y2="75.7"/>
<line x1="900.3" y1="450.2" x2="905.6" y2="450.2"/>
<line x1="900.3" y1="343.2" x2="905.6" y2="343.2"/>
<line x1="900.3" y1="236.2" x2="905.6" y2="236.2"/>
<line x1="900.3" y1="129.2" x2="905.6" y2="129.2"/>
</g>
<rect x="900.3" y="22.1" width="665.2" height="534.9" fill="none" stroke="#000" stroke-width="2.5"/>
<text transform="translate(888.6,512.7) scale(1,1.055)" font-size="33" text-anchor="end">0</text>
<text transform="translate(888.6,405.7) scale(1,1.055)" font-size="33" text-anchor="end">200</text>
<text transform="translate(888.6,298.7) scale(1,1.055)" font-size="33" text-anchor="end">400</text>
<text transform="translate(888.6,191.7) scale(1,1.055)" font-size="33" text-anchor="end">600</text>
<text transform="translate(888.6,84.7) scale(1,1.055)" font-size="33" text-anchor="end">800</text>
<text transform="translate(939.4,593.4) scale(1,1.055)" font-size="33" text-anchor="middle">0</text>
<text transform="translate(1017.66,593.4) scale(1,1.055)" font-size="33" text-anchor="middle">200</text>
<text transform="translate(1095.92,593.4) scale(1,1.055)" font-size="33" text-anchor="middle">400</text>
<text transform="translate(1174.18,593.4) scale(1,1.055)" font-size="33" text-anchor="middle">600</text>
<text transform="translate(1252.44,593.4) scale(1,1.055)" font-size="33" text-anchor="middle">800</text>
<text transform="translate(1330.7,593.4) scale(1,1.055)" font-size="33" text-anchor="middle">1000</text>
<text transform="translate(1408.96,593.4) scale(1,1.055)" font-size="33" text-anchor="middle">1200</text>
<text transform="translate(1487.22,593.4) scale(1,1.055)" font-size="33" text-anchor="middle">1400</text>
<text transform="translate(1565.48,593.4) scale(1,1.055)" font-size="33" text-anchor="middle">1600</text>
<text transform="translate(1232.8,653.9) scale(1,1.04)" font-size="40.6" text-anchor="middle">Time (min)</text>
<text transform="translate(819.2,316.8) rotate(-90)" font-size="40">t/qt</text>
<text x="914.8" y="64.9" font-size="35.5" font-weight="bold">(b)</text>
<rect x="910.2" y="83.5" width="127" height="150.5" fill="#fff" stroke="#5a5a5a" stroke-width="1.2"/>
<rect x="934.3" y="94.3" width="12" height="12" fill="#4f4f4f"/>
<text transform="translate(973,108.4) scale(1,1.02)" font-size="24.2">2.11</text>
<circle cx="940.3" cy="129.45" r="6.4" fill="#dc3c3c"/>
<text transform="translate(973,137.55) scale(1,1.02)" font-size="24.2">5.25</text>
<polygon points="940.3,149.67 947.9,163.07 932.7,163.07" fill="#3d6fdc"/>
<text transform="translate(973,166.7) scale(1,1.02)" font-size="24.2">10.45</text>
<polygon points="932.7,183.28 947.9,183.28 940.3,196.68" fill="#5fa465"/>
<text transform="translate(973,195.85) scale(1,1.02)" font-size="24.2">15.81</text>
<polygon points="940.3,209.1 948.1,216.9 940.3,224.7 932.5,216.9" fill="#a06be2"/>
<text transform="translate(973,225) scale(1,1.02)" font-size="24.2">20.34</text>
</svg></body></html>
